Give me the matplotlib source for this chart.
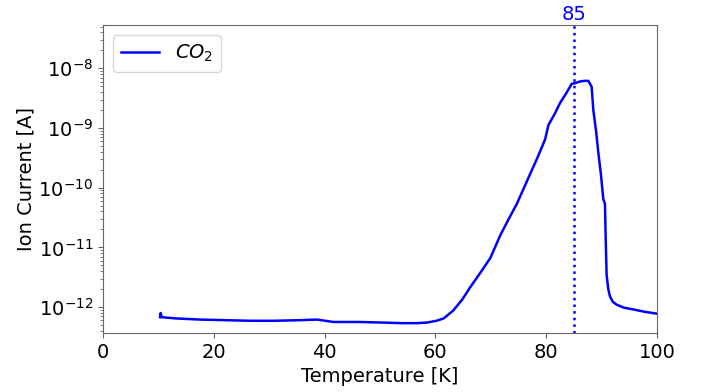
import matplotlib
matplotlib.use("Agg")
import matplotlib.pyplot as plt
import numpy as np

# temperature [K] and log10 of ion current [A]
temp = [10.3, 10.4, 10.6, 13.0, 17.5, 22.0, 26.5, 31.0, 35.6, 38.6, 41.6, 46.0, 50.5, 54.0,
        56.6, 58.5, 60.2, 61.5, 63.2, 64.8, 66.2, 68.0, 69.9, 71.7, 73.2, 74.7, 76.0, 77.1,
        78.5, 79.8, 80.4, 81.5, 82.5, 83.6, 84.6, 85.2, 86.1, 87.0, 87.6, 88.2, 88.5, 89.0,
        89.4, 89.9, 90.3, 90.6, 90.75, 90.9, 91.2, 91.5, 92.0, 92.7, 94.0, 95.7, 97.8, 99.9]
log_current = [-12.17, -12.10, -12.17, -12.19, -12.21, -12.22, -12.23, -12.23, -12.22, -12.21,
               -12.25, -12.25, -12.26, -12.27, -12.27, -12.26, -12.23, -12.19, -12.06, -11.88,
               -11.68, -11.44, -11.18, -10.80, -10.53, -10.27, -10.00, -9.77, -9.48, -9.19,
               -8.95, -8.77, -8.58, -8.42, -8.26, -8.25, -8.22, -8.21, -8.21, -8.31, -8.70,
               -9.05, -9.41, -9.80, -10.19, -10.27, -10.90, -11.46, -11.70, -11.82, -11.91,
               -11.96, -12.01, -12.04, -12.08, -12.11]
current = 10.0 ** np.array(log_current)

peak_temp = 85

plt.rcParams['font.size'] = 14

fig, ax = plt.subplots(figsize=(7.08, 3.92), dpi=100)
ax.plot(temp, current, color='blue', linewidth=1.8, label='$CO_2$')
ax.axvline(peak_temp, color='blue', linestyle=':', linewidth=1.8)
ax.annotate(str(peak_temp), xy=(peak_temp, 1.0), xycoords=ax.get_xaxis_transform(),
            xytext=(0, 1), textcoords='offset points',
            color='blue', ha='center', va='bottom', fontsize=14)

ax.set_yscale('log')
ax.set_xlim(0, 100)
ax.set_ylim(3.7e-13, 5.3e-8)
ax.set_xlabel('Temperature [K]')
ax.set_ylabel('Ion Current [A]', labelpad=2)
ax.legend(loc='upper left')

for sp in ax.spines.values():
    sp.set_color('#666666')
ax.tick_params(which='both', color='#666666')

fig.subplots_adjust(left=0.1455, right=0.928, top=0.936, bottom=0.151)
fig.savefig('out.png')
